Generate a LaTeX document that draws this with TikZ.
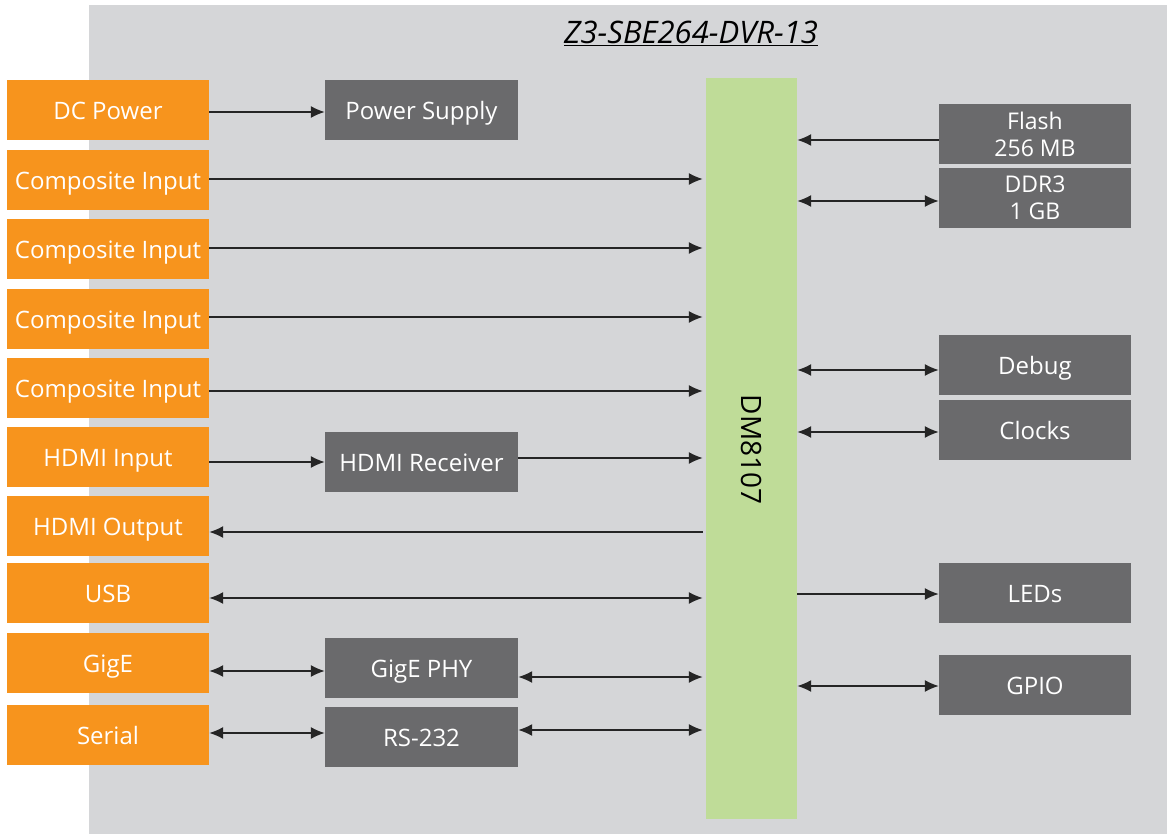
\documentclass[tikz,border=0pt]{standalone}
\usepackage{fontspec}
\setmainfont{Open Sans}
\usetikzlibrary{arrows.meta,calc}
\definecolor{bgc}{HTML}{D5D6D8}
\definecolor{orng}{HTML}{F7941D}
\definecolor{dgray}{HTML}{6A6A6C}
\definecolor{grn}{HTML}{BFDC98}
\definecolor{lnc}{HTML}{252525}
\begin{document}
\begin{tikzpicture}[x=1pt,y=-1pt,
  ext/.style={fill=orng,text=white,minimum width=202pt,minimum height=60pt,inner sep=0pt,font=\fontsize{24}{26}\selectfont,text height=23pt,text depth=4pt},
  blk/.style={fill=dgray,text=white,minimum width=193pt,minimum height=60pt,inner sep=0pt,font=\fontsize{24}{26}\selectfont,align=center},
  sblk/.style={blk,text height=23pt,text depth=4pt},
  rblk/.style={blk,minimum width=192pt},
  srblk/.style={sblk,minimum width=192pt},
  con/.style={draw=lnc,line width=1.4pt,-{Latex[length=14pt,width=12pt]}},
  bcon/.style={draw=lnc,line width=1.4pt,{Latex[length=14pt,width=12pt]}-{Latex[length=14pt,width=12pt]}}]
\useasboundingbox (0,0) rectangle (1167,834);
\fill[bgc] (89,5) rectangle (1167,834);
\node[font=\fontsize{31}{33}\selectfont\itshape] (title) at (691,33) {\underline{Z3-SBE264-DVR-13}};
\node[fill=grn,minimum width=91pt,minimum height=741pt,inner sep=0pt] (dm) at (751.5,448.5) {};
\node[rotate=-90,font=\fontsize{28}{30}\selectfont] (dmt) at ([yshift=-1pt]dm.center) {DM8107};
% left externals
\node[ext] (dc) at (108,110) {DC Power};
\node[ext] (c1) at (108,180) {Composite Input};
\node[ext] (c2) at (108,249) {Composite Input};
\node[ext] (c3) at (108,319) {Composite Input};
\node[ext] (c4) at (108,388) {Composite Input};
\node[ext] (hin) at (108,457) {HDMI Input};
\node[ext] (hout) at (108,526) {HDMI Output};
\node[ext] (usb) at (108,593) {USB};
\node[ext] (gige) at (108,663) {GigE};
\node[ext] (ser) at (108,735) {Serial};
% middle blocks
\node[sblk] (ps) at (421.5,110) {Power Supply};
\node[sblk] (hr) at (421.5,462) {HDMI Receiver};
\node[sblk] (phy) at (421.5,668) {GigE PHY};
\node[sblk] (rs) at (421.5,737) {RS-232};
% right blocks
\node[rblk,font=\fontsize{23}{27}\selectfont] (fl) at (1035,134) {Flash\\256 MB};
\node[rblk,font=\fontsize{23}{27}\selectfont] (ddr) at (1035,198) {DDR3\\1 GB};
\node[srblk] (dbg) at (1035,365) {Debug};
\node[srblk] (clk) at (1035,430) {Clocks};
\node[srblk] (led) at (1035,593) {LEDs};
\node[srblk] (gpio) at (1035,685) {GPIO};
% connectors left
\draw[con] ([yshift=-2pt]dc.east) -- ([yshift=-2pt]ps.west);
\draw[con,shorten >=3pt] ([yshift=1pt]c1.east) -- ([yshift=1pt]c1.east -| dm.west);
\draw[con,shorten >=3pt] ([yshift=1pt]c2.east) -- ([yshift=1pt]c2.east -| dm.west);
\draw[con,shorten >=3pt] ([yshift=2pt]c3.east) -- ([yshift=2pt]c3.east -| dm.west);
\draw[con,shorten >=3pt] ([yshift=-3pt]c4.east) -- ([yshift=-3pt]c4.east -| dm.west);
\draw[con] ([yshift=-5pt]hin.east) -- (hr.west);
\draw[con,shorten >=3pt] ([yshift=4pt]hr.east) -- ([yshift=4pt]hr.east -| dm.west);
\draw[con,shorten <=3pt] ([yshift=-6pt]hout.east -| dm.west) -- ([yshift=-6pt]hout.east);
\draw[bcon,shorten >=3pt] ([yshift=-5pt]usb.east) -- ([yshift=-5pt]usb.east -| dm.west);
\draw[bcon] ([yshift=-8pt]gige.east) -- ([yshift=-3pt]phy.west);
\draw[bcon,shorten >=3pt] ([yshift=-9pt]phy.east) -- ([yshift=-9pt]phy.east -| dm.west);
\draw[bcon] ([yshift=2pt]ser.east) -- ([yshift=4pt]rs.west);
\draw[bcon,shorten >=3pt] ([yshift=7pt]rs.east) -- ([yshift=7pt]rs.east -| dm.west);
% connectors right
\draw[con] ([yshift=-6pt]fl.west) -- ([yshift=-6pt]fl.west -| dm.east);
\draw[bcon] ([yshift=-3pt]ddr.west) -- ([yshift=-3pt]ddr.west -| dm.east);
\draw[bcon] ([yshift=-5pt]dbg.west) -- ([yshift=-5pt]dbg.west -| dm.east);
\draw[bcon] ([yshift=-2pt]clk.west) -- ([yshift=-2pt]clk.west -| dm.east);
\draw[con] ([yshift=-1pt]led.west -| dm.east) -- ([yshift=-1pt]led.west);
\draw[bcon] ([yshift=-1pt]gpio.west) -- ([yshift=-1pt]gpio.west -| dm.east);
\end{tikzpicture}
\end{document}
